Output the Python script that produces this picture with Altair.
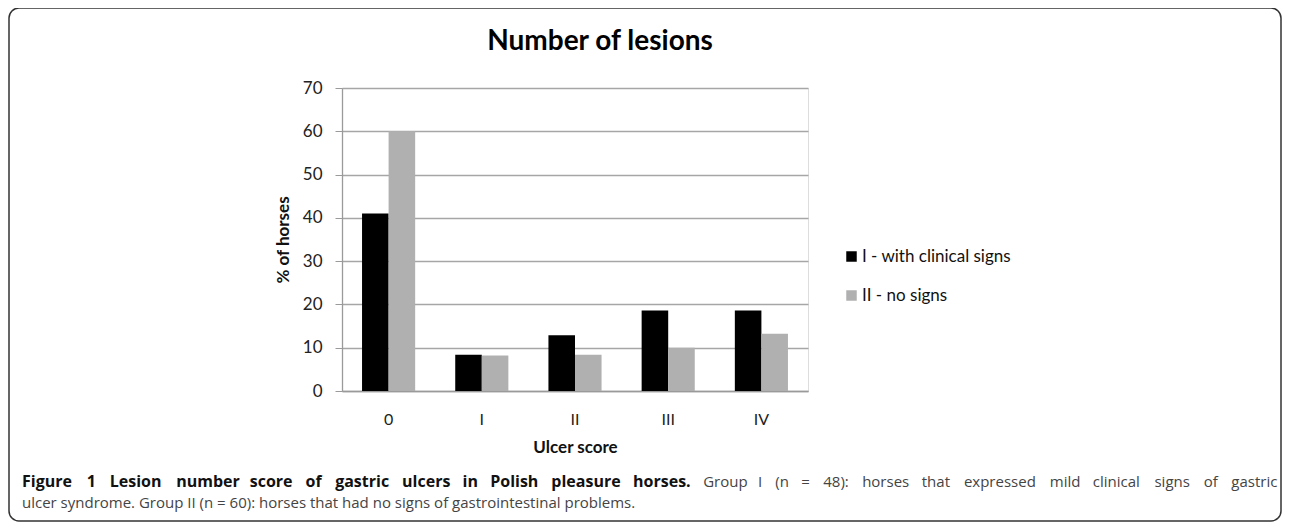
import altair as alt
import pandas as pd

scores = ["0", "I", "II", "III", "IV"]
group_names = ["I - with clinical signs", "II - no signs"]
group1_values = [41.0, 8.4, 12.9, 18.6, 18.6]
group2_values = [60.0, 8.2, 8.4, 10.0, 13.2]
colors = ["#000000", "#b0b0b0"]

chart_title = "Number of lesions"
caption_bold = "Figure 1 Lesion number score of gastric ulcers in Polish pleasure horses."
caption_rest1 = "Group I (n = 48): horses that expressed mild clinical signs of gastric"
caption_line2 = "ulcer syndrome. Group II (n = 60): horses that had no signs of gastrointestinal problems."

rows = []
for s, a, b in zip(scores, group1_values, group2_values):
    rows.append({"score": s, "group": group_names[0], "pct": a})
    rows.append({"score": s, "group": group_names[1], "pct": b})
df = pd.DataFrame(rows)

W, H = 466, 303
OX, OY = 342, 88  # plot origin on page
PAD_L, PAD_T = OX - 8, OY - 8
PAD_R = 1274 - W - PAD_L
PAD_B = 515 - H - PAD_T

FONT = "Lato"
CAP_FONT = "Open Sans"


# --- justified first caption line (layout of the caption text only) ---
def est_width(word):
    w = 0.0
    for ch in word:
        if ch in "ilj.:()I,'|":
            w += 0.27
        elif ch in "rft":
            w += 0.38
        elif ch in "mw":
            w += 0.85
        elif ch in "s":
            w += 0.48
        elif ch in "c":
            w += 0.49
        elif ch.isupper():
            w += 0.64
        else:
            w += 0.58
    return w


bold_words = caption_bold.split(" ")
norm_words = caption_rest1.split(" ")
BOLD_NATURAL, NORM_NATURAL = 571.0, 464.0  # measured rendered widths
SPACE_B, SPACE_N = 4.4, 3.9
bw = [est_width(w) for w in bold_words]
nw = [est_width(w) for w in norm_words]
kb = (BOLD_NATURAL - SPACE_B * (len(bold_words) - 1)) / sum(bw)
kn = (NORM_NATURAL - SPACE_N * (len(norm_words) - 1)) / sum(nw)
widths = [w * kb for w in bw] + [w * kn for w in nw]
LINE_L, LINE_R = 22, 1279
gap = (LINE_R - LINE_L - sum(widths)) / (len(widths) - 1)
word_rows = []
x = LINE_L
for i, word in enumerate(bold_words + norm_words):
    word_rows.append({"w": word, "px": x - OX, "bold": i < len(bold_words)})
    x += widths[i] + gap
words_df = pd.DataFrame(word_rows)

bars = alt.Chart(df).mark_bar(stroke=None).encode(
    x=alt.X("score:N", sort=scores,
            scale=alt.Scale(paddingInner=0.43, paddingOuter=0.215),
            axis=alt.Axis(title="Ulcer score", labelAngle=0, ticks=False,
                          labelPadding=20, titlePadding=12,
                          domainColor="#9a9a9a", domainWidth=1.3,
                          labelFontSize=16, labelFont=FONT, labelColor="#222",
                          titleFont=FONT, titleFontSize=17, titleFontWeight="bold",
                          titleColor="#111")),
    xOffset=alt.XOffset("group:N", sort=group_names,
                        scale=alt.Scale(paddingInner=0, paddingOuter=0)),
    y=alt.Y("pct:Q", scale=alt.Scale(domain=[0, 70], nice=False),
            axis=alt.Axis(title="% of horses", values=list(range(0, 71, 10)),
                          tickSize=7, tickColor="#9a9a9a", labelPadding=13,
                          titlePadding=10, domainColor="#9a9a9a", domainWidth=1.3,
                          gridColor="#a6a6a6", gridWidth=1.3,
                          labelFontSize=17, labelFont=FONT, labelColor="#222",
                          titleFont=FONT, titleFontSize=17, titleFontWeight="bold",
                          titleColor="#111")),
    color=alt.Color("group:N", sort=group_names,
                    scale=alt.Scale(domain=group_names, range=colors),
                    legend=alt.Legend(title=None, orient="none",
                                      legendX=501, legendY=160,
                                      symbolType="square", symbolSize=110,
                                      symbolStrokeWidth=0,
                                      labelFontSize=17, labelFont=FONT,
                                      labelColor="#111", rowPadding=21,
                                      labelOffset=2)),
)

title_df = pd.DataFrame({"t": [chart_title]})
title = alt.Chart(title_df).mark_text(
    font=FONT, fontSize=28, fontWeight="bold", color="#000", align="center",
    baseline="middle").encode(text="t:N", x=alt.value(600 - OX), y=alt.value(42 - OY))

cap_bold = alt.Chart(words_df).transform_filter("datum.bold").mark_text(
    font=CAP_FONT, fontSize=16, fontWeight="bold", color="#111", align="left",
    baseline="middle").encode(text="w:N", x=alt.X("px:Q", scale=None),
                              y=alt.value(482 - OY))
cap_norm = alt.Chart(words_df).transform_filter("!datum.bold").mark_text(
    font=CAP_FONT, fontSize=15, color="#444", align="left",
    baseline="middle").encode(text="w:N", x=alt.X("px:Q", scale=None),
                              y=alt.value(482 - OY))
cap3 = alt.Chart(pd.DataFrame({"t": [caption_line2]})).mark_text(
    font=CAP_FONT, fontSize=15, color="#444", align="left",
    baseline="middle").encode(text="t:N", x=alt.value(22 - OX), y=alt.value(503 - OY))

frame = alt.Chart(pd.DataFrame({"a": [0]})).mark_rect(
    fill=None, stroke="#333", strokeWidth=1.5, cornerRadius=10).encode(
    x=alt.value(9 - OX), x2=alt.value(1281 - OX),
    y=alt.value(8 - OY), y2=alt.value(521 - OY))

chart = alt.layer(bars, title, cap_bold, cap_norm, cap3, frame).properties(
    width=W, height=H,
    autosize=alt.AutoSizeParams(type="none"),
    padding={"left": PAD_L, "top": PAD_T, "right": PAD_R, "bottom": PAD_B},
).configure_view(stroke=None).configure(background="white")

chart.save("out.html", embed_options={"renderer": "svg", "actions": False})
